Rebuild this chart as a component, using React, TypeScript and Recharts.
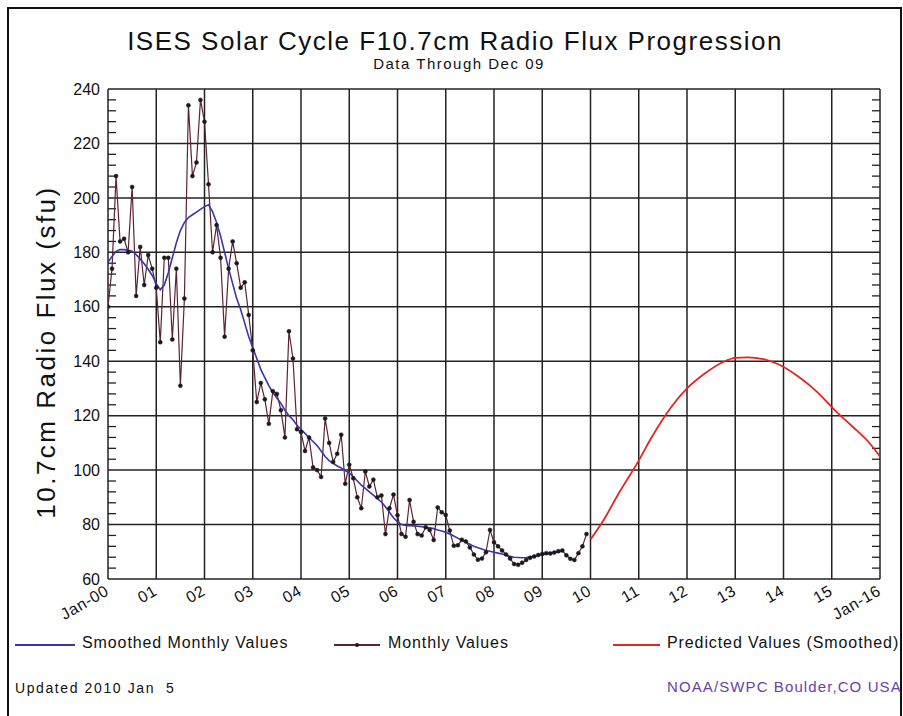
import React from 'react';
import { LineChart, Line, XAxis, YAxis, CartesianGrid, ReferenceLine } from 'recharts';

// months counted from Jan 2000 (0) to Jan 2016 (192)
const yearTicks = [0, 12, 24, 36, 48, 60, 72, 84, 96, 108, 120, 132, 144, 156, 168, 180, 192];
const yearLabels = ['Jan-00', '01', '02', '03', '04', '05', '06', '07', '08', '09', '10', '11', '12', '13', '14', '15', 'Jan-16'];
const fluxTicks = [60, 80, 100, 120, 140, 160, 180, 200, 220, 240];

// observed monthly values, Jan 2000 - Dec 2009
const monthlyFlux = [
  160, 174, 208, 184, 185, 180, 204, 164, 182, 168, 179, 174,
  167, 147, 178, 178, 148, 174, 131, 163, 234, 208, 213, 236,
  228, 205, 180, 190, 178, 149, 174, 184, 176, 167, 169, 157,
  144, 125, 132, 126, 117, 129, 128, 122, 112, 151, 141, 115,
  114, 107, 112, 101, 100, 97.5, 119, 110, 103, 106, 113, 95,
  102, 97, 90, 86, 99.5, 94, 96.5, 90, 90.7, 76.5, 86, 91,
  83.4, 76.5, 75.5, 89, 81, 76.5, 76, 79, 78, 74.3, 86.3, 84.5,
  83.5, 77.8, 72.2, 72.4, 74.4, 73.8, 71.6, 69, 67.1, 67.5, 69.8, 78,
  73.5, 72, 70.5, 69, 67.5, 65.5, 65.2, 66, 67, 67.8, 68.3, 68.8,
  69.2, 69.5, 69.4, 69.7, 70.2, 70.5, 68.7, 67.4, 67, 69.5, 72, 76.5,
];

// smoothed monthly values, Jan 2000 - Jun 2009
const smoothedFlux = [
  176.4, 178.5, 180.3, 181, 181, 180.8, 180.4, 179.2, 177.5, 175.8, 173.8, 171.5,
  168.5, 166.3, 168, 172.5, 178, 183.5, 188, 191, 192.8, 193.8, 194.8, 195.8,
  196.8, 197.5, 195, 191, 186, 180, 174, 168.5, 163, 159, 154, 149,
  145, 141, 137, 134, 131, 128.5, 126.5, 124.5, 122, 120, 118.5, 116.5,
  115, 113.5, 112, 110.5, 109, 107, 105, 103.5, 102.5, 101.5, 100.8, 99.8,
  99, 97.5, 96, 94.5, 93.3, 92, 90.8, 89.5, 88.3, 86.5, 84.5, 82.5,
  81, 80, 79.7, 79.6, 79.5, 79.4, 79.2, 79, 78.8, 78.5, 78, 77.6,
  77.2, 76.5, 75.8, 75, 74.2, 73.5, 72.8, 72, 71.5, 71, 70.5, 70.2,
  69.8, 69.5, 69.2, 68.8, 68.3, 68, 67.9, 67.8, 67.9, 68.1, 68.4, 68.7,
  68.9, 69.2, 69.5, 69.8, 70, 70.2,
];

// predicted (smoothed) values
const predictedMonths = [120, 123, 127, 132, 135, 140, 144, 148, 153, 156, 159, 163, 167, 172, 176, 181, 185, 189, 192];
const predictedFlux = [74.5, 81, 91.4, 103.5, 111.5, 123, 130, 135, 139.7, 141.2, 141.4, 140.8, 138.7, 134, 129.2, 121.7, 116.2, 110.6, 105];

const monthlyData = monthlyFlux.map((v, i) => ({ m: i, v }));
const smoothedData = smoothedFlux.map((v, i) => ({ m: i, v }));
const predictedData = predictedMonths.map((m, i) => ({ m, v: predictedFlux[i] }));
// minor y ticks every 4 sfu, drawn inside the left and right frame
const minorTicks = Array.from({ length: 46 }, (_, i) => 60 + i * 4).filter((t) => t % 20 !== 0);

const FONT = '"Liberation Sans", Arial, Helvetica, sans-serif';

const XTick = (props: any) => {
  const { x, y, payload } = props;
  const label = yearLabels[yearTicks.indexOf(payload.value)];
  return (
    <g transform={`translate(${x + 2},${y + 7}) rotate(-30)`}>
      <text textAnchor="end" fontSize={16} fill="#111" fontFamily={FONT} letterSpacing={0.6}>
        {label}
      </text>
    </g>
  );
};

const abs = (left: number, top: number, extra: React.CSSProperties = {}): React.CSSProperties => ({
  position: 'absolute', left, top, fontFamily: FONT, color: '#111', whiteSpace: 'pre', ...extra,
});

const legendLine = (left: number, width: number, color: string): React.CSSProperties => ({
  position: 'absolute', left, top: 644, width, height: 2, background: color,
});

export default function App() {
  return (
    <div style={{ position: 'absolute', left: 0, top: 0, width: 903, height: 716, background: '#fff', overflow: 'hidden' }}>
      <div style={{ position: 'absolute', left: 7, top: 7, width: 891, height: 720, borderLeft: '2px solid #111', borderTop: '2px solid #111', borderRight: '2px solid #111' }} />
      <div style={abs(0, 26, { width: 910, textAlign: 'center', fontSize: 26, letterSpacing: 1.5 })}>
        ISES Solar Cycle F10.7cm Radio Flux Progression
      </div>
      <div style={abs(0, 55, { width: 918, textAlign: 'center', fontSize: 15, letterSpacing: 1.5 })}>Data Through Dec 09</div>
      <div style={abs(46, 352, { transform: 'translate(-50%, -50%) rotate(-90deg)', fontSize: 26, letterSpacing: 2.5 })}>
        10.7cm Radio Flux (sfu)
      </div>

      <LineChart width={903} height={716} data={monthlyData} margin={{ top: 89, right: 23, left: 0, bottom: 107 }}>
        <CartesianGrid yAxisId="main" stroke="#222" strokeWidth={1.5} horizontalValues={fluxTicks} verticalValues={yearTicks} />
        <XAxis
          dataKey="m"
          type="number"
          domain={[0, 192]}
          ticks={yearTicks}
          interval={0}
          height={30}
          tick={<XTick />}
          axisLine={false}
          tickLine={false}
          allowDataOverflow
        />
        <YAxis
          yAxisId="main"
          domain={[60, 240]}
          ticks={fluxTicks}
          interval={0}
          width={108}
          axisLine={false}
          tickLine={false}
          tick={{ fontSize: 16, fill: '#111', fontFamily: FONT }}
          allowDataOverflow
        />
        {minorTicks.map((t) => (
          <ReferenceLine key={`l${t}`} yAxisId="main" segment={[{ x: 0, y: t }, { x: 2, y: t }]} stroke="#222" strokeWidth={1.3} />
        ))}
        {minorTicks.map((t) => (
          <ReferenceLine key={`r${t}`} yAxisId="main" segment={[{ x: 190, y: t }, { x: 192, y: t }]} stroke="#222" strokeWidth={1.3} />
        ))}
        <Line
          yAxisId="main"
          data={monthlyData}
          dataKey="v"
          type="linear"
          stroke="#5c2336"
          strokeWidth={1.2}
          dot={{ r: 2, fill: '#1a1a1a', stroke: '#1a1a1a', strokeWidth: 0.5 }}
          isAnimationActive={false}
        />
        <Line yAxisId="main" data={smoothedData} dataKey="v" type="linear" stroke="#3b35a8" strokeWidth={1.6} dot={false} isAnimationActive={false} />
        <Line yAxisId="main" data={predictedData} dataKey="v" type="monotone" stroke="#e3261f" strokeWidth={1.8} dot={false} isAnimationActive={false} />
      </LineChart>

      <div style={legendLine(15, 60, '#3b35a8')} />
      <div style={abs(82, 634, { fontSize: 16, letterSpacing: 0.9 })}>Smoothed Monthly Values</div>
      <div style={legendLine(334, 46, '#5c2336')} />
      <div style={{ position: 'absolute', left: 355, top: 643, width: 4, height: 4, borderRadius: 2, background: '#1a1a1a' }} />
      <div style={abs(388, 634, { fontSize: 16, letterSpacing: 0.9 })}>Monthly Values</div>
      <div style={legendLine(613, 47, '#e3261f')} />
      <div style={abs(667, 634, { fontSize: 16, letterSpacing: 0.9 })}>Predicted Values (Smoothed)</div>

      <div style={abs(15, 680, { fontSize: 14, letterSpacing: 1.6 })}>Updated 2010 Jan  5</div>
      <div style={abs(667, 678, { fontSize: 15, color: '#6a3fa8', letterSpacing: 1.1 })}>NOAA/SWPC Boulder,CO USA</div>
    </div>
  );
}
